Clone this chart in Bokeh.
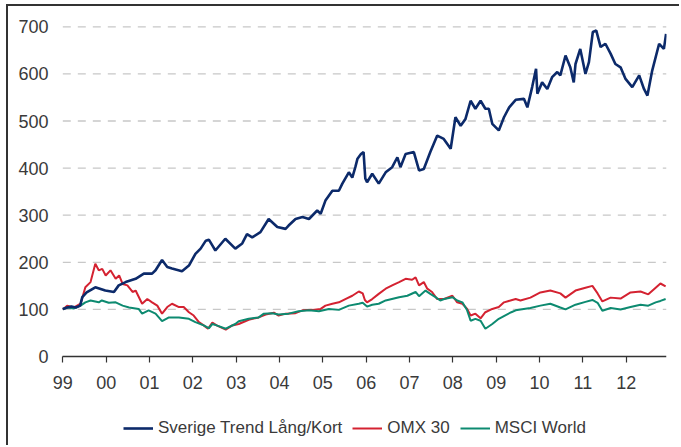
from bokeh.plotting import figure
from bokeh.models import Legend, LegendItem, FixedTicker, Range1d, ColumnDataSource
from bokeh.embed import file_html
from bokeh.resources import INLINE

# ---- data (decimal years, index values) ----
trend_t = [1999.00, 1999.10, 1999.20, 1999.30, 1999.40, 1999.45, 1999.55, 1999.75, 1999.98,
           2000.18, 2000.29, 2000.45, 2000.68, 2000.87, 2001.06, 2001.14, 2001.29, 2001.41,
           2001.52, 2001.75, 2001.91, 2002.06, 2002.18, 2002.30, 2002.37, 2002.45, 2002.52,
           2002.75, 2002.98, 2003.14, 2003.25, 2003.37, 2003.56, 2003.75, 2003.95, 2004.14,
           2004.21, 2004.37, 2004.53, 2004.68, 2004.87, 2004.95, 2005.06, 2005.22, 2005.37,
           2005.45, 2005.60, 2005.68, 2005.75, 2005.80, 2005.88, 2005.94, 2005.98, 2006.02,
           2006.14, 2006.29, 2006.45, 2006.60, 2006.72, 2006.79, 2006.91, 2007.10, 2007.22,
           2007.33, 2007.48, 2007.64, 2007.79, 2007.95, 2008.06, 2008.18, 2008.29, 2008.41,
           2008.52, 2008.64, 2008.75, 2008.83, 2008.91, 2009.06, 2009.18, 2009.30, 2009.45,
           2009.64, 2009.72, 2009.83, 2009.92, 2009.95, 2010.06, 2010.18, 2010.29, 2010.41,
           2010.48, 2010.60, 2010.71, 2010.79, 2010.83, 2010.94, 2011.06, 2011.14, 2011.23,
           2011.31, 2011.41, 2011.52, 2011.64, 2011.75, 2011.87, 2011.98, 2012.14, 2012.30,
           2012.41, 2012.49, 2012.60, 2012.76, 2012.87, 2012.92]
trend_v = [101, 104, 106, 104, 108, 126, 136, 147, 140,
           137, 151, 158, 165, 176, 176, 183, 205, 190,
           187, 181, 193, 218, 229, 246, 248, 236, 225,
           250, 229, 240, 260, 253, 264, 292, 275, 271,
           278, 292, 296, 292, 310, 303, 331, 352, 352,
           367, 391, 380, 402, 420, 430, 434, 378, 370,
           388, 367, 391, 402, 423, 402, 430, 434, 395,
           398, 434, 469, 462, 441, 508, 490, 504, 543,
           526, 543, 526, 526, 494, 480, 508, 529, 545,
           547, 529, 572, 611, 558, 582, 568, 593, 604,
           597, 639, 614, 582, 621, 653, 600, 625, 689,
           692, 657, 664, 643, 621, 614, 590, 572, 597,
           568, 554, 607, 664, 653, 685]

omx_t = [1999.00, 1999.10, 1999.25, 1999.41, 1999.52, 1999.64, 1999.75, 1999.83, 1999.91,
         1999.99, 2000.10, 2000.22, 2000.30, 2000.38, 2000.49, 2000.61, 2000.68, 2000.83,
         2000.95, 2001.06, 2001.18, 2001.29, 2001.41, 2001.52, 2001.68, 2001.79, 2001.91,
         2002.02, 2002.14, 2002.25, 2002.35, 2002.45, 2002.55, 2002.76, 2002.91, 2003.06,
         2003.29, 2003.52, 2003.68, 2003.87, 2003.98, 2004.14, 2004.37, 2004.53, 2004.76,
         2004.95, 2005.06, 2005.22, 2005.37, 2005.52, 2005.68, 2005.83, 2005.92, 2005.97,
         2006.02, 2006.14, 2006.29, 2006.45, 2006.60, 2006.76, 2006.91, 2007.06, 2007.14,
         2007.22, 2007.33, 2007.41, 2007.52, 2007.64, 2007.80, 2007.99, 2008.10, 2008.22,
         2008.33, 2008.41, 2008.52, 2008.64, 2008.75, 2008.91, 2009.06, 2009.18, 2009.33,
         2009.45, 2009.56, 2009.79, 2010.02, 2010.25, 2010.48, 2010.60, 2010.83, 2011.06,
         2011.22, 2011.34, 2011.45, 2011.64, 2011.87, 2012.10, 2012.33, 2012.51, 2012.68,
         2012.79, 2012.91]
omx_v = [100, 108, 104, 112, 147, 158, 197, 183, 186,
         172, 183, 165, 172, 154, 151, 137, 140, 112,
         122, 115, 108, 91, 105, 112, 105, 105, 94,
         87, 73, 66, 59, 72, 66, 57, 66, 69,
         78, 83, 89, 93, 87, 91, 92, 98, 99,
         101, 108, 112, 115, 122, 129, 138, 134, 120,
         115, 122, 133, 144, 151, 158, 165, 163, 168,
         151, 158, 144, 137, 122, 122, 129, 115, 112,
         101, 87, 91, 81, 94, 101, 105, 115, 119,
         122, 119, 125, 136, 140, 134, 125, 140, 146,
         150, 134, 117, 125, 123, 136, 138, 132, 146,
         155, 149]

msci_t = [1999.00, 1999.10, 1999.25, 1999.41, 1999.52, 1999.64, 1999.83, 1999.90, 2000.06,
          2000.22, 2000.38, 2000.53, 2000.75, 2000.83, 2000.98, 2001.14, 2001.29, 2001.45,
          2001.68, 2001.91, 2002.06, 2002.25, 2002.37, 2002.45, 2002.55, 2002.76, 2002.98,
          2003.06, 2003.29, 2003.52, 2003.64, 2003.83, 2003.98, 2004.21, 2004.44, 2004.68,
          2004.91, 2005.14, 2005.37, 2005.60, 2005.83, 2005.92, 2006.02, 2006.14, 2006.29,
          2006.45, 2006.76, 2006.95, 2007.14, 2007.22, 2007.37, 2007.48, 2007.60, 2007.71,
          2007.80, 2007.99, 2008.10, 2008.22, 2008.33, 2008.41, 2008.52, 2008.64, 2008.75,
          2008.91, 2009.06, 2009.20, 2009.35, 2009.45, 2009.56, 2009.79, 2010.02, 2010.25,
          2010.48, 2010.60, 2010.83, 2011.06, 2011.22, 2011.34, 2011.45, 2011.64, 2011.87,
          2012.10, 2012.33, 2012.51, 2012.68, 2012.79, 2012.91]
msci_v = [100, 104, 102, 108, 115, 119, 115, 119, 114,
          115, 108, 104, 101, 91, 98, 91, 75, 83,
          83, 80, 73, 66, 60, 69, 66, 59, 69,
          75, 80, 83, 91, 92, 89, 91, 96, 98,
          96, 101, 99, 108, 112, 114, 106, 110, 112,
          119, 126, 129, 137, 128, 140, 133, 126, 119,
          122, 126, 119, 115, 98, 76, 80, 76, 59,
          69, 80, 87, 94, 98, 100, 103, 108, 112,
          104, 100, 110, 116, 120, 114, 97, 103, 100,
          105, 110, 108, 115, 118, 122]

series_names = ["Sverige Trend Lång/Kort", "OMX 30", "MSCI World"]
year_ticks = list(range(1999, 2013))
year_labels = ["99", "00", "01", "02", "03", "04", "05", "06", "07", "08", "09", "10", "11", "12"]
value_ticks = [0, 100, 200, 300, 400, 500, 600, 700]
x_start, x_end = 1999.0, 2012.93

# ---- figure ----
FONT = "Liberation Sans"
TXT = "#3a3a3a"
p = figure(width=673, height=441, output_backend="svg", toolbar_location=None,
           x_range=Range1d(1998.716, x_end), y_range=Range1d(-193.2, 715.5),
           min_border_left=42, min_border_right=15, min_border_top=13, min_border_bottom=0)
p.styles = {"border-top": "2px solid #333", "border-left": "2px solid #333",
            "margin-left": "6px", "margin-top": "4px"}
p.outline_line_color = None
p.background_fill_color = "white"

# dashed horizontal grid lines spanning the data period
grid_vals = value_ticks[1:]
grid_src = ColumnDataSource(dict(x0=[x_start] * len(grid_vals), x1=[x_end] * len(grid_vals),
                                 y=grid_vals))
p.segment(x0="x0", y0="y", x1="x1", y1="y", source=grid_src,
          line_color="#c8c8c8", line_dash="8 7", line_width=1.3)

src_o = ColumnDataSource(dict(t=omx_t, v=omx_v))
src_m = ColumnDataSource(dict(t=msci_t, v=msci_v))
src_b = ColumnDataSource(dict(t=trend_t, v=trend_v))
r_o = p.line("t", "v", source=src_o, line_color="#d42231", line_width=2)
r_m = p.line("t", "v", source=src_m, line_color="#0d8a70", line_width=2)
r_b = p.line("t", "v", source=src_b, line_color="#0c2a6a", line_width=2.6)

# axes
p.xaxis.fixed_location = 0
p.xaxis.bounds = (x_start, x_end)
p.xaxis.ticker = FixedTicker(ticks=year_ticks)
p.xaxis.major_label_overrides = {t: lab for t, lab in zip(year_ticks, year_labels)}
p.xaxis.axis_line_color = "#333333"
p.xaxis.axis_line_width = 1.5
p.xaxis.major_tick_line_color = "#333333"
p.xaxis.major_tick_line_width = 1.2
p.xaxis.major_tick_out = 6
p.xaxis.major_tick_in = 0
p.xaxis.minor_tick_line_color = None
p.xaxis.major_label_standoff = 13
p.xaxis.major_label_text_font = FONT
p.xaxis.major_label_text_font_size = "18px"
p.xaxis.major_label_text_color = TXT

p.yaxis.ticker = FixedTicker(ticks=value_ticks)
p.yaxis.axis_line_color = None
p.yaxis.major_tick_line_color = None
p.yaxis.minor_tick_line_color = None
p.yaxis.major_tick_out = 0
p.yaxis.major_label_standoff = 2
p.yaxis.major_label_text_font = FONT
p.yaxis.major_label_text_font_size = "18px"
p.yaxis.major_label_text_color = TXT

p.xgrid.visible = False
p.ygrid.visible = False

legend = Legend(items=[LegendItem(label=series_names[0], renderers=[r_b]),
                       LegendItem(label=series_names[1], renderers=[r_o]),
                       LegendItem(label=series_names[2], renderers=[r_m])],
                orientation="horizontal", location=(73, 9), padding=0, margin=0,
                spacing=10, glyph_width=30, glyph_height=18, label_standoff=5,
                label_text_font=FONT, label_text_font_size="17px", label_text_color=TXT,
                border_line_color=None, background_fill_alpha=0)
p.add_layout(legend)

open("out.html", "w").write(file_html(p, INLINE))
